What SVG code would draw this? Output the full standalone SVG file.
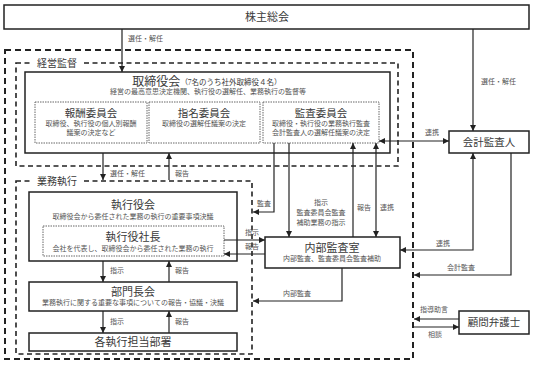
<svg xmlns="http://www.w3.org/2000/svg" width="533" height="365" viewBox="0 0 533 365">
<defs>
<marker id="ah" viewBox="0 0 10 10" refX="10" refY="5" markerUnits="userSpaceOnUse" markerWidth="6" markerHeight="6" orient="auto-start-reverse"><path d="M0,0 L10,5 L0,10 z" fill="#222"/></marker>
<style>
text { font-family: 'Liberation Serif','Noto Sans CJK JP',serif; fill:#3a3a3a; dominant-baseline:central; }
.t { font-size:11px; text-anchor:middle; }
.st { font-size:10.5px; text-anchor:middle; }
.s { font-size:7px; fill:#555; text-anchor:middle; }
.l { font-size:7px; fill:#555; }
.lc { font-size:7px; fill:#555; text-anchor:middle; }
.box { fill:#fff; stroke:#222; stroke-width:1.5; }
.dot { fill:none; stroke:#666; stroke-width:1; stroke-dasharray:1.5 1; }
.dash { fill:none; stroke:#222; stroke-width:2; stroke-dasharray:6 4; }
.dash2 { fill:none; stroke:#222; stroke-width:1.6; stroke-dasharray:5 3.5; }
.c { fill:none; stroke:#222; stroke-width:1.2; }
.c1 { marker-end:url(#ah); }
.c2 { marker-start:url(#ah); marker-end:url(#ah); }
</style>
</defs>

<g id="regions">
  <rect class="dash" x="5" y="50" width="408" height="309"/>
  <g id="region-supervision">
    <rect class="dash2" x="16" y="63" width="382" height="103"/>
    <rect x="31" y="57" width="52" height="12" fill="#fff"/>
    <text x="57" y="63" style="font-size:10px" text-anchor="middle">経営監督</text>
  </g>
  <g id="region-execution">
    <rect class="dash2" x="16" y="181" width="236" height="173"/>
    <rect x="31" y="175" width="52" height="12" fill="#fff"/>
    <text x="57" y="181" style="font-size:10px" text-anchor="middle">業務執行</text>
  </g>
</g>

<g id="shareholders">
  <rect class="box" x="4" y="5" width="525" height="24"/>
  <text class="t" x="267" y="17">株主総会</text>
</g>

<g id="board">
  <rect class="box" x="25" y="72" width="365" height="81"/>
  <text x="207" y="82" text-anchor="middle"><tspan style="font-size:12px">取締役会</tspan><tspan style="font-size:7.5px">（7名のうち社外取締役４名）</tspan></text>
  <text class="s" x="208" y="92">経営の最高意思決定機関、執行役の選解任、業務執行の監督等</text>
</g>

<g id="compensation-committee">
  <rect class="dot" x="35" y="102" width="112" height="41"/>
  <text class="st" x="91" y="113">報酬委員会</text>
  <text class="s" x="91" y="124">取締役、執行役の個人別報酬</text>
  <text class="s" x="91" y="133">議案の決定など</text>
</g>

<g id="nomination-committee">
  <rect class="dot" x="149" y="102" width="111" height="41"/>
  <text class="st" x="204" y="113">指名委員会</text>
  <text class="s" x="204" y="124">取締役の選解任議案の決定</text>
</g>

<g id="audit-committee">
  <rect class="dot" x="263" y="102" width="116" height="41"/>
  <text class="st" x="321" y="113">監査委員会</text>
  <text class="s" x="321" y="124">取締役・執行役の業務執行監査</text>
  <text class="s" x="321" y="133">会計監査人の選解任議案の決定</text>
</g>

<g id="accounting-auditor">
  <rect class="box" x="449" y="131" width="80" height="22"/>
  <text class="st" x="489" y="142">会計監査人</text>
</g>

<g id="executive-committee">
  <rect class="box" x="29" y="192" width="208" height="69"/>
  <text class="t" x="133" y="205">執行役会</text>
  <text class="s" x="133" y="217">取締役会から委任された業務の執行の重要事項決議</text>
</g>

<g id="president">
  <rect class="dot" x="43" y="226" width="181" height="30"/>
  <text class="t" x="133" y="237">執行役社長</text>
  <text class="s" x="133" y="249">会社を代表し、取締役会から委任された業務の執行</text>
</g>

<g id="division-heads">
  <rect class="box" x="29" y="282" width="208" height="29"/>
  <text class="t" x="133" y="292">部門長会</text>
  <text class="s" x="133" y="303">業務執行に関する重要な事項についての報告・協議・決議</text>
</g>

<g id="departments">
  <rect class="box" x="29" y="333" width="208" height="18"/>
  <text class="t" x="133" y="342">各執行担当部署</text>
</g>

<g id="internal-audit">
  <rect class="box" x="265" y="237" width="135" height="31"/>
  <text class="t" x="332" y="248">内部監査室</text>
  <text class="s" x="332" y="259">内部監査、監査委員会監査補助</text>
</g>

<g id="legal-counsel">
  <rect class="box" x="459" y="311" width="70" height="23"/>
  <text class="st" x="494" y="322">顧問弁護士</text>
</g>

<g id="connectors">
  <path class="c c1" d="M122,29 V72"/>
  <path class="c c1" d="M473,29 V131"/>
  <path class="c c2" d="M379,141 H449"/>
  <path class="c c1" d="M103,153 V180"/>
  <path class="c c1" d="M169,180 V153"/>
  <path class="c c1" d="M274,143 V212 H253"/>
  <path class="c c1" d="M289,143 V237"/>
  <path class="c c1" d="M353,237 V143"/>
  <path class="c c2" d="M376,143 V237"/>
  <path class="c c1" d="M224,240 H265"/>
  <path class="c c1" d="M265,254 H224"/>
  <path class="c c2" d="M473,153 V250 H400"/>
  <path class="c c1" d="M511,153 V275 H414"/>
  <path class="c c1" d="M342,268 V301 H253"/>
  <path class="c c1" d="M103,261 V282"/>
  <path class="c c1" d="M169,282 V261"/>
  <path class="c c1" d="M103,311 V333"/>
  <path class="c c1" d="M169,333 V311"/>
  <path class="c c1" d="M459,319 H414"/>
  <path class="c c1" d="M414,327 H459"/>

  <text class="l" x="128" y="39">選任・解任</text>
  <text class="l" x="481" y="82">選任・解任</text>
  <text class="l" x="425" y="133">連携</text>
  <text class="l" x="110" y="174">選任・解任</text>
  <text class="l" x="175" y="174">報告</text>
  <text class="l" x="257" y="204">監査</text>
  <text class="lc" x="321" y="203">指示</text>
  <text class="lc" x="321" y="213">監査委員会監査</text>
  <text class="lc" x="321" y="223">補助業務の指示</text>
  <text class="l" x="357" y="208">報告</text>
  <text class="l" x="380" y="208">連携</text>
  <text class="l" x="245" y="233">指示</text>
  <text class="l" x="245" y="247">報告</text>
  <text class="l" x="436" y="244">連携</text>
  <text class="l" x="447" y="268">会計監査</text>
  <text class="l" x="283" y="294">内部監査</text>
  <text class="l" x="420" y="310">指導助言</text>
  <text class="l" x="428" y="335">相談</text>
  <text class="l" x="110" y="271">指示</text>
  <text class="l" x="175" y="271">報告</text>
  <text class="l" x="110" y="322">指示</text>
  <text class="l" x="175" y="322">報告</text>
</g>
</svg>
